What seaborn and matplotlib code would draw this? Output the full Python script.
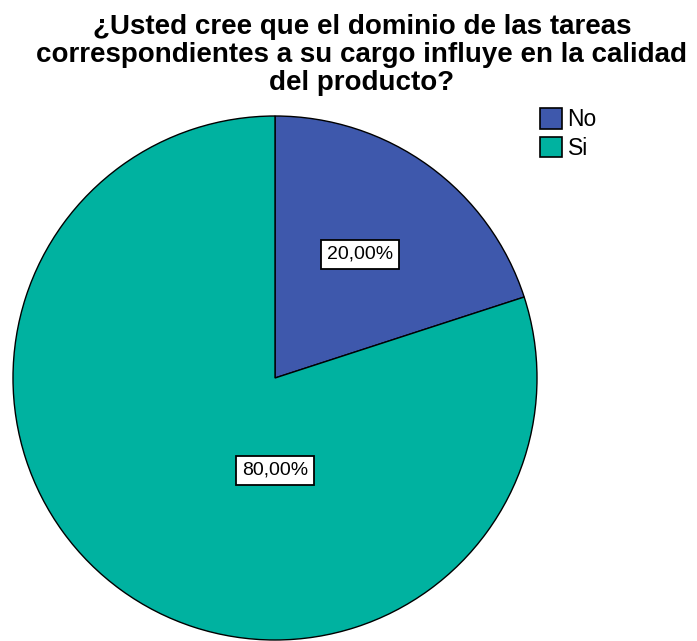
import matplotlib
matplotlib.use("Agg")
import matplotlib.pyplot as plt
import seaborn as sns
from matplotlib.patches import Patch

categories = ["No", "Si"]
percentages = [20.0, 80.0]
colors = ["#3E58AC", "#00B2A0"]
title = "¿Usted cree que el dominio de las tareas\ncorrespondientes a su cargo influye en la calidad\ndel producto?"

sns.set_theme(style="white")
plt.rcParams["font.family"] = ["Liberation Sans", "DejaVu Sans"]

W, H = 697, 641
fig = plt.figure(figsize=(W / 100, H / 100), dpi=100)
fig.patch.set_facecolor("white")

# Pie axes: a square box, centre (275, 378) px, radius 262 px
cx, cy, r = 275, 378, 262
ax = fig.add_axes([(cx - r) / W, (H - cy - r) / H, 2 * r / W, 2 * r / H])
wedges, _ = ax.pie(
    percentages,
    colors=colors,
    startangle=90,
    counterclock=False,
    radius=1.0,
    wedgeprops=dict(edgecolor="black", linewidth=1.0),
)
ax.set_xlim(-1, 1)
ax.set_ylim(-1, 1)
ax.axis("off")

# Percentage labels in white boxes
label_pos = [(0.323, 0.472), (0.0, -0.352)]
for pct, (x, y) in zip(percentages, label_pos):
    txt = f"{pct:.2f}%".replace(".", ",")
    ax.text(x, y, txt, ha="center", va="center", fontsize=14, color="black",
            bbox=dict(boxstyle="square,pad=0.3", facecolor="white",
                      edgecolor="black", linewidth=1.3))

fig.text(362 / W, 1 - 14 / H, title, ha="center", va="top", fontsize=20,
         fontweight="bold", linespacing=1.1, color="black")

handles = [Patch(facecolor=c, edgecolor="black", linewidth=1.2, label=l)
           for c, l in zip(colors, categories)]
leg = fig.legend(handles=handles, loc="upper left",
                 bbox_to_anchor=(540 / W, 1 - 108 / H), frameon=False,
                 fontsize=16.5, handlelength=0.95, handleheight=1.0,
                 handletextpad=0.25, labelspacing=0.25, borderpad=0.0,
                 borderaxespad=0)
for t in leg.get_texts():
    t.set_color("black")

fig.savefig("out.png", dpi=100, facecolor="white")
